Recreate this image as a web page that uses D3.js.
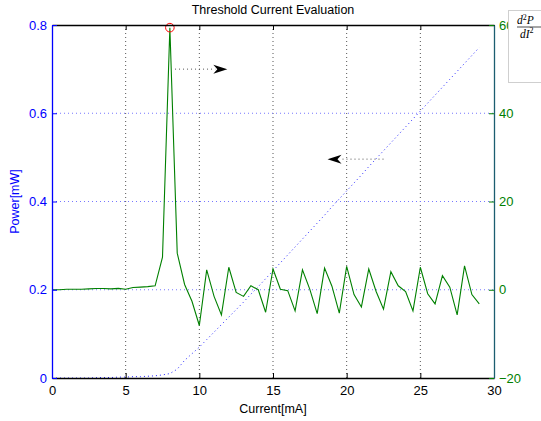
<!DOCTYPE html>
<html>
<head>
<meta charset="utf-8">
<script src="https://cdn.jsdelivr.net/npm/d3@7"></script>
<style>
  body { margin: 0; background: #fff; }
  text { font-family: "Liberation Sans", Arial, Helvetica, sans-serif; }
</style>
</head>
<body>
<div id="chart"></div>
<script>
// Threshold current plot: power (left axis, blue dotted) and d2P/dI2 (right axis, green)

// Data (0.5 mA steps)
var current = [0, 0.5, 1, 1.5, 2, 2.5, 3, 3.5, 4, 4.5, 5, 5.5, 6, 6.5, 7, 7.5, 8, 8.5, 9, 9.5,
  10, 10.5, 11, 11.5, 12, 12.5, 13, 13.5, 14, 14.5, 15, 15.5, 16, 16.5, 17, 17.5, 18, 18.5, 19, 19.5,
  20, 20.5, 21, 21.5, 22, 22.5, 23, 23.5, 24, 24.5, 25, 25.5, 26, 26.5, 27, 27.5, 28, 28.5, 29];

var power = [0, 0, 0, 0, 0, 0, 0.001, 0.001, 0.001, 0.002, 0.002, 0.003, 0.003, 0.004, 0.005, 0.007, 0.010, 0.020, 0.040, 0.055,
  0.070, 0.087, 0.104, 0.121, 0.138, 0.155, 0.172, 0.190, 0.207, 0.225, 0.243, 0.261, 0.279, 0.297, 0.315, 0.333, 0.351, 0.369, 0.388, 0.406,
  0.424, 0.442, 0.460, 0.479, 0.497, 0.515, 0.533, 0.551, 0.569, 0.587, 0.605, 0.623, 0.641, 0.659, 0.677, 0.695, 0.713, 0.731, 0.749];

var d2P = [0.0, 0.0, 0.1, 0.1, 0.1, 0.2, 0.3, 0.3, 0.2, 0.3, 0.1, 0.5, 0.6, 0.7, 0.9, 7.4, 59.4, 8.3, 1.2, -2.6,
  -8.1, 4.5, -1.5, -5.7, 5.1, -0.6, -1.5, 0.9, 0.0, -5.1, 4.7, 0.1, -0.2, -4.8, 4.5, 0.1, -5.4, 4.9, 0.8, -5.3,
  5.3, -1.1, -3.9, 4.7, -0.4, -4.4, 4.1, 0.9, -0.4, -4.8, 5.1, -0.9, -3.2, 3.2, 0.6, -5.7, 5.4, -1.1, -3.2];

var xTicks = [0, 5, 10, 15, 20, 25, 30];
var yLeftTicks = [0, 0.2, 0.4, 0.6, 0.8];
var yRightTicks = [-20, 0, 20, 40, 60];

// arrow annotations in data units (current, power): from -> to
var arrows = [
  { x1: 8.35, y1: 0.700, x2: 11.9, y2: 0.700 },
  { x1: 22.5, y1: 0.496, x2: 18.7, y2: 0.496 }
];

var svgWidth = 541;
var svgHeight = 421;

var margin = { top: 25, bottom: 43, left: 52, right: 47 };

var width = svgWidth - margin.left - margin.right;    // 442
var height = svgHeight - margin.top - margin.bottom;  // 353

var svg = d3.select("#chart")
  .append("svg")
  .attr("width", svgWidth)
  .attr("height", svgHeight);

var chartGroup = svg.append("g")
  .attr("transform", `translate(${margin.left}, ${margin.top})`);

// scales
var xScale = d3.scaleLinear().domain([0, 30]).range([0, width]);
var yLeft = d3.scaleLinear().domain([0, 0.8]).range([height, 0]);
var yRight = d3.scaleLinear().domain([-20, 60]).range([height, 0]);

// grid
chartGroup.selectAll(null)
  .data(xTicks.slice(1, -1))
  .enter()
  .append("line")
  .attr("x1", d => xScale(d)).attr("x2", d => xScale(d))
  .attr("y1", 0).attr("y2", height)
  .attr("stroke", "#555")
  .attr("stroke-dasharray", "1,3");

chartGroup.selectAll(null)
  .data(yLeftTicks.slice(1, -1))
  .enter()
  .append("line")
  .attr("x1", 0).attr("x2", width)
  .attr("y1", d => yLeft(d)).attr("y2", d => yLeft(d))
  .attr("stroke", "#7777ff")
  .attr("stroke-dasharray", "1,3");

// power line (dotted blue)
var powerLine = d3.line()
  .x((d, i) => xScale(current[i]))
  .y(d => yLeft(d));

chartGroup.append("path")
  .datum(power)
  .attr("d", powerLine)
  .attr("fill", "none")
  .attr("stroke", "#2222ff")
  .attr("stroke-width", 1)
  .attr("stroke-dasharray", "1,3");

// second derivative line (green)
var d2Line = d3.line()
  .x((d, i) => xScale(current[i]))
  .y(d => yRight(d));

chartGroup.append("path")
  .datum(d2P)
  .attr("d", d2Line)
  .attr("fill", "none")
  .attr("stroke", "#008000")
  .attr("stroke-width", 1.1);

// red circle on the maximum
var iMax = d3.maxIndex(d2P);
chartGroup.append("circle")
  .attr("cx", xScale(current[iMax]))
  .attr("cy", yRight(d2P[iMax]))
  .attr("r", 4.3)
  .attr("fill", "none")
  .attr("stroke", "#ff0000")
  .attr("stroke-width", 1);

// axes
var bottomAxis = d3.axisBottom(xScale).tickValues(xTicks).tickSizeInner(-5).tickSizeOuter(0).tickPadding(8);
var topAxis = d3.axisTop(xScale).tickValues(xTicks).tickSizeInner(-5).tickSizeOuter(0).tickFormat("");
var leftAxis = d3.axisLeft(yLeft).tickValues(yLeftTicks).tickSizeInner(-5).tickSizeOuter(0).tickPadding(5)
  .tickFormat(d => d === 0 ? "0" : d3.format(".1f")(d));
var rightAxis = d3.axisRight(yRight).tickValues(yRightTicks).tickSizeInner(-5).tickSizeOuter(0).tickPadding(5)
  .tickFormat(d => d < 0 ? "\u2212" + Math.abs(d) : d);

var gBottom = chartGroup.append("g")
  .attr("transform", `translate(0, ${height})`)
  .call(bottomAxis);
var gTop = chartGroup.append("g").call(topAxis);
var gLeft = chartGroup.append("g").call(leftAxis);
var gRight = chartGroup.append("g")
  .attr("transform", `translate(${width}, 0)`)
  .call(rightAxis);

function styleAxis(g, color, lineColor) {
  g.select(".domain").attr("stroke", lineColor).attr("stroke-width", 1.3);
  g.selectAll(".tick line").attr("stroke", lineColor);
  g.selectAll(".tick text")
    .attr("fill", color)
    .style("font-family", "'Liberation Sans', Arial, Helvetica, sans-serif")
    .style("font-size", "13px");
}
styleAxis(gBottom, "#000", "#000");
styleAxis(gTop, "#000", "#000");
styleAxis(gLeft, "#0000ff", "#0000ff");
styleAxis(gRight, "#008000", "#1b5e70");
gRight.selectAll(".tick line").attr("stroke", "#008000");

// arrow annotations
arrows.forEach(function (a) {
  var px1 = xScale(a.x1), py1 = yLeft(a.y1), px2 = xScale(a.x2), py2 = yLeft(a.y2);
  var ang = Math.atan2(py2 - py1, px2 - px1) * 180 / Math.PI;
  var len = Math.hypot(px2 - px1, py2 - py1);
  var g = chartGroup.append("g")
    .attr("transform", `translate(${px1}, ${py1}) rotate(${ang})`);
  g.append("line")
    .attr("x1", 0).attr("y1", 0)
    .attr("x2", len - 12).attr("y2", 0)
    .attr("stroke", "#555")
    .attr("stroke-dasharray", "1,3");
  g.append("path")
    .attr("d", `M${len},0 L${len - 14},-4.5 L${len - 10},0 L${len - 14},4.5 Z`)
    .attr("fill", "#000");
});

// title and axis labels
svg.append("text")
  .attr("x", margin.left + width / 2)
  .attr("y", 14)
  .attr("text-anchor", "middle")
  .style("font-size", "12.5px")
  .text("Threshold Current Evaluation");

svg.append("text")
  .attr("x", margin.left + width / 2)
  .attr("y", 413)
  .attr("text-anchor", "middle")
  .style("font-size", "12.5px")
  .text("Current[mA]");

svg.append("text")
  .attr("transform", `translate(19, ${margin.top + height / 2}) rotate(-90)`)
  .attr("text-anchor", "middle")
  .attr("fill", "#0000ff")
  .style("font-size", "12.5px")
  .text("Power[mW]");

// legend box (cut by the window edge)
var legend = svg.append("g");
legend.append("rect")
  .attr("x", 508.5).attr("y", 10.5)
  .attr("width", 60).attr("height", 72)
  .attr("fill", "#fff")
  .attr("stroke", "#cfcfcf");

var num = legend.append("text")
  .attr("x", 517).attr("y", 24)
  .style("font-family", "'Liberation Serif', 'DejaVu Serif', serif")
  .style("font-style", "italic")
  .style("font-size", "11.5px");
num.append("tspan").text("d");
num.append("tspan").attr("dy", -4.5).style("font-size", "8px").style("font-style", "normal").text("2");
num.append("tspan").attr("dy", 4.5).text("P");

legend.append("line")
  .attr("x1", 517).attr("x2", 541)
  .attr("y1", 27).attr("y2", 27)
  .attr("stroke", "#000").attr("stroke-width", 0.7);

var den = legend.append("text")
  .attr("x", 520).attr("y", 37.5)
  .style("font-family", "'Liberation Serif', 'DejaVu Serif', serif")
  .style("font-style", "italic")
  .style("font-size", "11.5px");
den.append("tspan").text("dI");
den.append("tspan").attr("dy", -4.5).style("font-size", "8px").style("font-style", "normal").text("2");
</script>
</body>
</html>
